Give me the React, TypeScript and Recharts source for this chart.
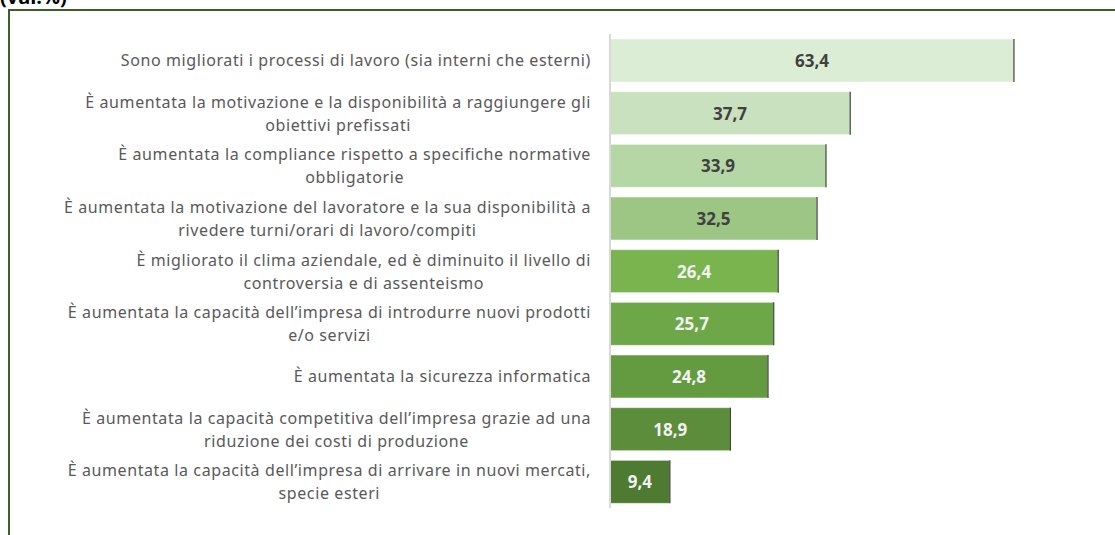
import React from "react";
import { BarChart, Bar, XAxis, YAxis, Cell, LabelList } from "recharts";

const categories = [
  "Sono migliorati i processi di lavoro (sia interni che esterni)",
  "È aumentata la motivazione e la disponibilità a raggiungere gli\nobiettivi prefissati",
  "È aumentata la compliance rispetto a specifiche normative\nobbligatorie",
  "È aumentata la motivazione del lavoratore e la sua disponibilità a\nrivedere turni/orari di lavoro/compiti",
  "È migliorato il clima aziendale, ed è diminuito il livello di\ncontroversia e di assenteismo",
  "È aumentata la capacità dell’impresa di introdurre nuovi prodotti\ne/o servizi",
  "È aumentata la sicurezza informatica",
  "È aumentata la capacità competitiva dell’impresa grazie ad una\nriduzione dei costi di produzione",
  "È aumentata la capacità dell’impresa di arrivare in nuovi mercati,\nspecie esteri",
];
const values = [63.4, 37.7, 33.9, 32.5, 26.4, 25.7, 24.8, 18.9, 9.4];
const barColors = ["#DCEDD5", "#C9E1BE", "#B5D7A5", "#9DC685", "#79B44F", "#6EA747", "#659B40", "#5B8D3B", "#4F7A31"];
const labelColors = ["#404040", "#404040", "#404040", "#404040", "#F2F2F2", "#F2F2F2", "#F2F2F2", "#F2F2F2", "#F2F2F2"];
const title = "(val.%)";

const data = categories.map((c, i) => ({ name: c, value: values[i] }));

const TICK_FONT = "16px 'Noto Sans'";
const LETTER_SPACING = 0.6;
let canvasCtx: CanvasRenderingContext2D | null = null;
function measure(text: string): number {
  if (!canvasCtx) {
    const c = document.createElement("canvas");
    canvasCtx = c.getContext("2d");
  }
  if (!canvasCtx) return text.length * 8.5;
  canvasCtx.font = TICK_FONT;
  return canvasCtx.measureText(text).width + LETTER_SPACING * text.length;
}

const CategoryTick = (props: any) => {
  const { x, y, payload } = props;
  const lines: string[] = String(payload.value).split("\n");
  const maxW = Math.max(...lines.map(measure));
  const lh = 23;
  const start = -((lines.length - 1) * lh) / 2;
  return (
    <g>
      {lines.map((l, i) => {
        const w = measure(l);
        return (
          <text
            key={i}
            x={x - maxW / 2 - w / 2}
            y={y + start + i * lh}
            textAnchor="start"
            dominantBaseline="central"
            fill="#595959"
            style={{ font: TICK_FONT, letterSpacing: LETTER_SPACING }}
          >
            {l}
          </text>
        );
      })}
    </g>
  );
};

const BarShape = (props: any) => {
  const { x, y, width, height, fill } = props;
  return (
    <g>
      <rect x={x} y={y} width={width} height={height} fill={fill} stroke="rgba(255,255,255,0.5)" strokeWidth={1} />
      <line x1={x + width} y1={y} x2={x + width} y2={y + height} stroke="#404040" strokeWidth={1.2} />
    </g>
  );
};

export default function App() {
  return (
    <div style={{ position: "absolute", left: 0, top: 0, width: 1115, height: 535, overflow: "hidden", background: "#fff" }}>
      <div
        style={{
          position: "absolute",
          left: 0,
          top: -15,
          fontFamily: "'Open Sans', sans-serif",
          fontWeight: 700,
          fontSize: 20,
          color: "#000",
          lineHeight: "24px",
        }}
      >
        {title}
      </div>
      <div
        style={{
          position: "absolute",
          left: 8,
          top: 9,
          width: 1200,
          height: 600,
          borderLeft: "2px solid #3B5E2B",
          borderTop: "2px solid #3B5E2B",
          boxSizing: "border-box",
        }}
      />
      <div style={{ position: "absolute", left: 0, top: 0 }}>
        <BarChart
          width={1115}
          height={535}
          data={data}
          layout="vertical"
          margin={{ top: 34, right: 59, bottom: 27, left: 0 }}
          barCategoryGap={0}
        >
          <XAxis type="number" domain={[0, 70]} hide />
          <YAxis
            type="category"
            dataKey="name"
            width={610}
            axisLine={{ stroke: "#D9D9D9", strokeWidth: 2 }}
            tickLine={false}
            tickSize={0}
            tickMargin={19}
            tick={<CategoryTick />}
            interval={0}
          />
          <Bar dataKey="value" barSize={43} isAnimationActive={false} shape={<BarShape />}>
            {data.map((d, i) => (
              <Cell key={i} fill={barColors[i]} />
            ))}
            <LabelList
              dataKey="value"
              position="center"
              content={(p: any) => {
                const { x, y, width, height, value, index } = p;
                return (
                  <text
                    x={x + width / 2}
                    y={y + height / 2}
                    textAnchor="middle"
                    dominantBaseline="central"
                    fill={labelColors[index]}
                    style={{ fontFamily: "'Open Sans', sans-serif", fontWeight: 700, fontSize: 17 }}
                  >
                    {String(value).replace(".", ",")}
                  </text>
                );
              }}
            />
          </Bar>
        </BarChart>
      </div>
    </div>
  );
}
